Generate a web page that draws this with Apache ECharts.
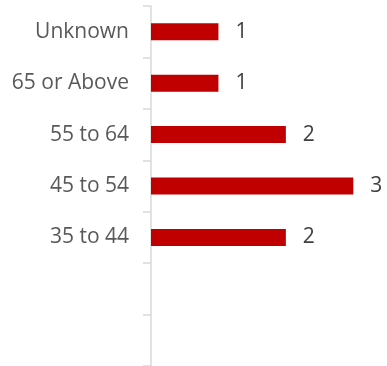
<!DOCTYPE html>
<html>
<head>
<meta charset="utf-8">
<style>
  html, body { margin: 0; padding: 0; background: #ffffff; }
  #chart { width: 387px; height: 366px; }
</style>
<script src="https://cdn.jsdelivr.net/npm/echarts@6/dist/echarts.min.js"></script>
</head>
<body>
<div id="chart"></div>
<script>
// Age groups, bottom to top; the two lowest rows are unlabeled and empty
const ageGroups = [' ', '  ', '35 to 44', '45 to 54', '55 to 64', '65 or Above', 'Unknown'];
const counts = [null, null, 2, 3, 2, 1, 1];
const axisMax = 3.5;

const chart = echarts.init(document.getElementById('chart'), null, { renderer: 'canvas' });

chart.setOption({
  animation: false,
  backgroundColor: '#ffffff',
  textStyle: { fontFamily: 'Open Sans' },
  grid: { left: 151, right: -1, top: 6, height: 362, containLabel: false },
  xAxis: {
    type: 'value',
    min: 0,
    max: axisMax,
    show: false
  },
  yAxis: {
    type: 'category',
    data: ageGroups,
    axisLine: { show: true, lineStyle: { color: '#d9d9d9', width: 1.5 } },
    axisTick: { show: true, length: 8, alignWithLabel: false, lineStyle: { color: '#d9d9d9', width: 1.5 } },
    axisLabel: { color: '#595959', fontSize: 21, fontFamily: 'Open Sans', margin: 22 },
    splitLine: { show: false }
  },
  series: [{
    type: 'bar',
    data: counts,
    barWidth: 17,
    itemStyle: { color: '#c00000' },
    label: {
      show: true,
      position: 'right',
      distance: 17,
      color: '#404040',
      fontSize: 21,
      fontFamily: 'Open Sans'
    }
  }]
});
</script>
</body>
</html>
